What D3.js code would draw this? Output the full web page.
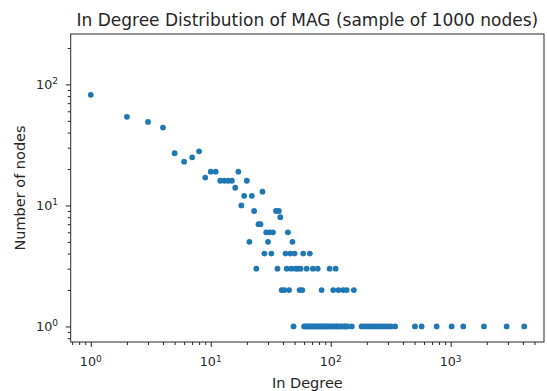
<!DOCTYPE html>
<html>
<head>
<meta charset="utf-8">
<script src="https://cdn.jsdelivr.net/npm/d3@7"></script>
<style>
  body { margin: 0; background: #fff; }
  svg { display: block; font-family: "DejaVu Sans", sans-serif; }
</style>
</head>
<body>
<svg width="547" height="391"></svg>
<script>
// in degree -> number of nodes with that in degree
const degrees = [1, 2, 3, 4, 5, 6, 7, 8, 9, 10, 11, 12, 13, 14, 15, 16, 17, 18, 19, 20,
    21, 22, 23, 24, 25, 26, 27, 28, 29, 30, 31, 32, 33, 35, 36, 37, 38, 39, 41, 42,
    43, 44, 45, 46, 47, 48, 49, 50, 51, 53, 55, 56, 58, 59, 60, 62, 63, 64, 66, 67,
    68, 70, 71, 73, 75, 77, 78, 80, 82, 84, 85, 87, 90, 93, 96, 98, 100, 103, 105, 108,
    110, 112, 114, 116, 120, 124, 127, 130, 133, 136, 138, 150, 156, 181, 190, 200, 210, 220, 232, 245,
    258, 270, 285, 300, 318, 344, 504, 573, 764, 1019, 1274, 1894, 2929, 4105];
const counts = [82, 54, 49, 44, 27, 23, 25, 28, 17, 19, 19, 16, 16, 16, 16, 14, 19, 10, 12, 16,
    5, 12, 9, 3, 7, 7, 13, 4, 6, 5, 6, 4, 6, 9, 3, 9, 8, 2, 2, 4,
    3, 6, 2, 4, 3, 5, 1, 4, 3, 3, 2, 3, 2, 4, 1, 1, 3, 1, 1, 4,
    1, 1, 3, 1, 1, 1, 3, 1, 1, 2, 1, 1, 1, 1, 1, 3, 1, 1, 2, 1,
    3, 1, 1, 2, 1, 1, 2, 1, 1, 2, 1, 1, 2, 1, 1, 1, 1, 1, 1, 1,
    1, 1, 1, 1, 1, 1, 1, 1, 1, 1, 1, 1, 1, 1];

const xDomain = [0.68, 6000];
const yDomain = [0.744, 261];
const majorTicks = [1, 10, 100, 1000];
const majorTicksY = [1, 10, 100];

const svg = d3.select('svg');
const mLeft = 70.7, mRight = 544, mTop = 34, mBottom = 342;
const ink = '#262626';

const x = d3.scaleLog().domain(xDomain).range([mLeft, mRight]);
const y = d3.scaleLog().domain(yDomain).range([mBottom, mTop]);

function minorsFor(domain) {
    const out = [];
    for (let e = -1; e <= 4; e++) {
        for (let m = 2; m <= 9; m++) {
            const v = m * Math.pow(10, e);
            if (v > domain[0] && v < domain[1]) out.push(v);
        }
    }
    return out;
}

const data = degrees.map((d, i) => ({ deg: d, n: counts[i] }));

// points
svg.append('g').selectAll('circle')
    .data(data)
    .join('circle')
    .attr('cx', d => x(d.deg))
    .attr('cy', d => y(d.n))
    .attr('r', 2.9)
    .attr('fill', '#1f77b4');

// axes: major + minor ticks
function styleAxis(g) {
    g.select('.domain').remove();
    g.selectAll('line').attr('stroke', ink).attr('stroke-width', 1);
    g.selectAll('text').remove();
}
svg.append('g').attr('transform', `translate(0,${mBottom})`)
    .call(d3.axisBottom(x).tickValues(majorTicks).tickSize(5).tickFormat('')).call(styleAxis);
svg.append('g').attr('transform', `translate(0,${mBottom})`)
    .call(d3.axisBottom(x).tickValues(minorsFor(xDomain)).tickSize(3).tickFormat('')).call(styleAxis);
svg.append('g').attr('transform', `translate(${mLeft},0)`)
    .call(d3.axisLeft(y).tickValues(majorTicksY).tickSize(5).tickFormat('')).call(styleAxis);
svg.append('g').attr('transform', `translate(${mLeft},0)`)
    .call(d3.axisLeft(y).tickValues(minorsFor(yDomain)).tickSize(3).tickFormat('')).call(styleAxis);

// frame
svg.append('rect')
    .attr('x', mLeft).attr('y', mTop)
    .attr('width', mRight - mLeft).attr('height', mBottom - mTop)
    .attr('fill', 'none').attr('stroke', ink).attr('stroke-width', 1);

// tick labels 10^k
function powerLabel(sel, v) {
    const e = Math.round(Math.log10(v));
    sel.append('tspan').text('10');
    sel.append('tspan').text(e).attr('font-size', '9px').attr('dy', '-0.5em');
}
svg.append('g').selectAll('text')
    .data(majorTicks)
    .join('text')
    .attr('x', d => x(d))
    .attr('y', 366)
    .attr('text-anchor', 'middle')
    .attr('font-size', '12.7px')
    .attr('fill', ink)
    .each(function (d) { powerLabel(d3.select(this), d); });

svg.append('g').selectAll('text')
    .data(majorTicksY)
    .join('text')
    .attr('x', 58)
    .attr('y', d => y(d) + 4.5)
    .attr('text-anchor', 'end')
    .attr('font-size', '12.7px')
    .attr('fill', ink)
    .each(function (d) { powerLabel(d3.select(this), d); });

// titles
svg.append('text')
    .attr('x', (mLeft + mRight) / 2).attr('y', 26)
    .attr('text-anchor', 'middle')
    .attr('font-size', '17px')
    .attr('fill', ink)
    .text('In Degree Distribution of MAG (sample of 1000 nodes)');

svg.append('text')
    .attr('x', (mLeft + mRight) / 2).attr('y', 388)
    .attr('text-anchor', 'middle')
    .attr('font-size', '14.5px')
    .attr('fill', ink)
    .text('In Degree');

svg.append('text')
    .attr('transform', `translate(25,${(mTop + mBottom) / 2}) rotate(-90)`)
    .attr('text-anchor', 'middle')
    .attr('font-size', '14.5px')
    .attr('fill', ink)
    .text('Number of nodes');
</script>
</body>
</html>
